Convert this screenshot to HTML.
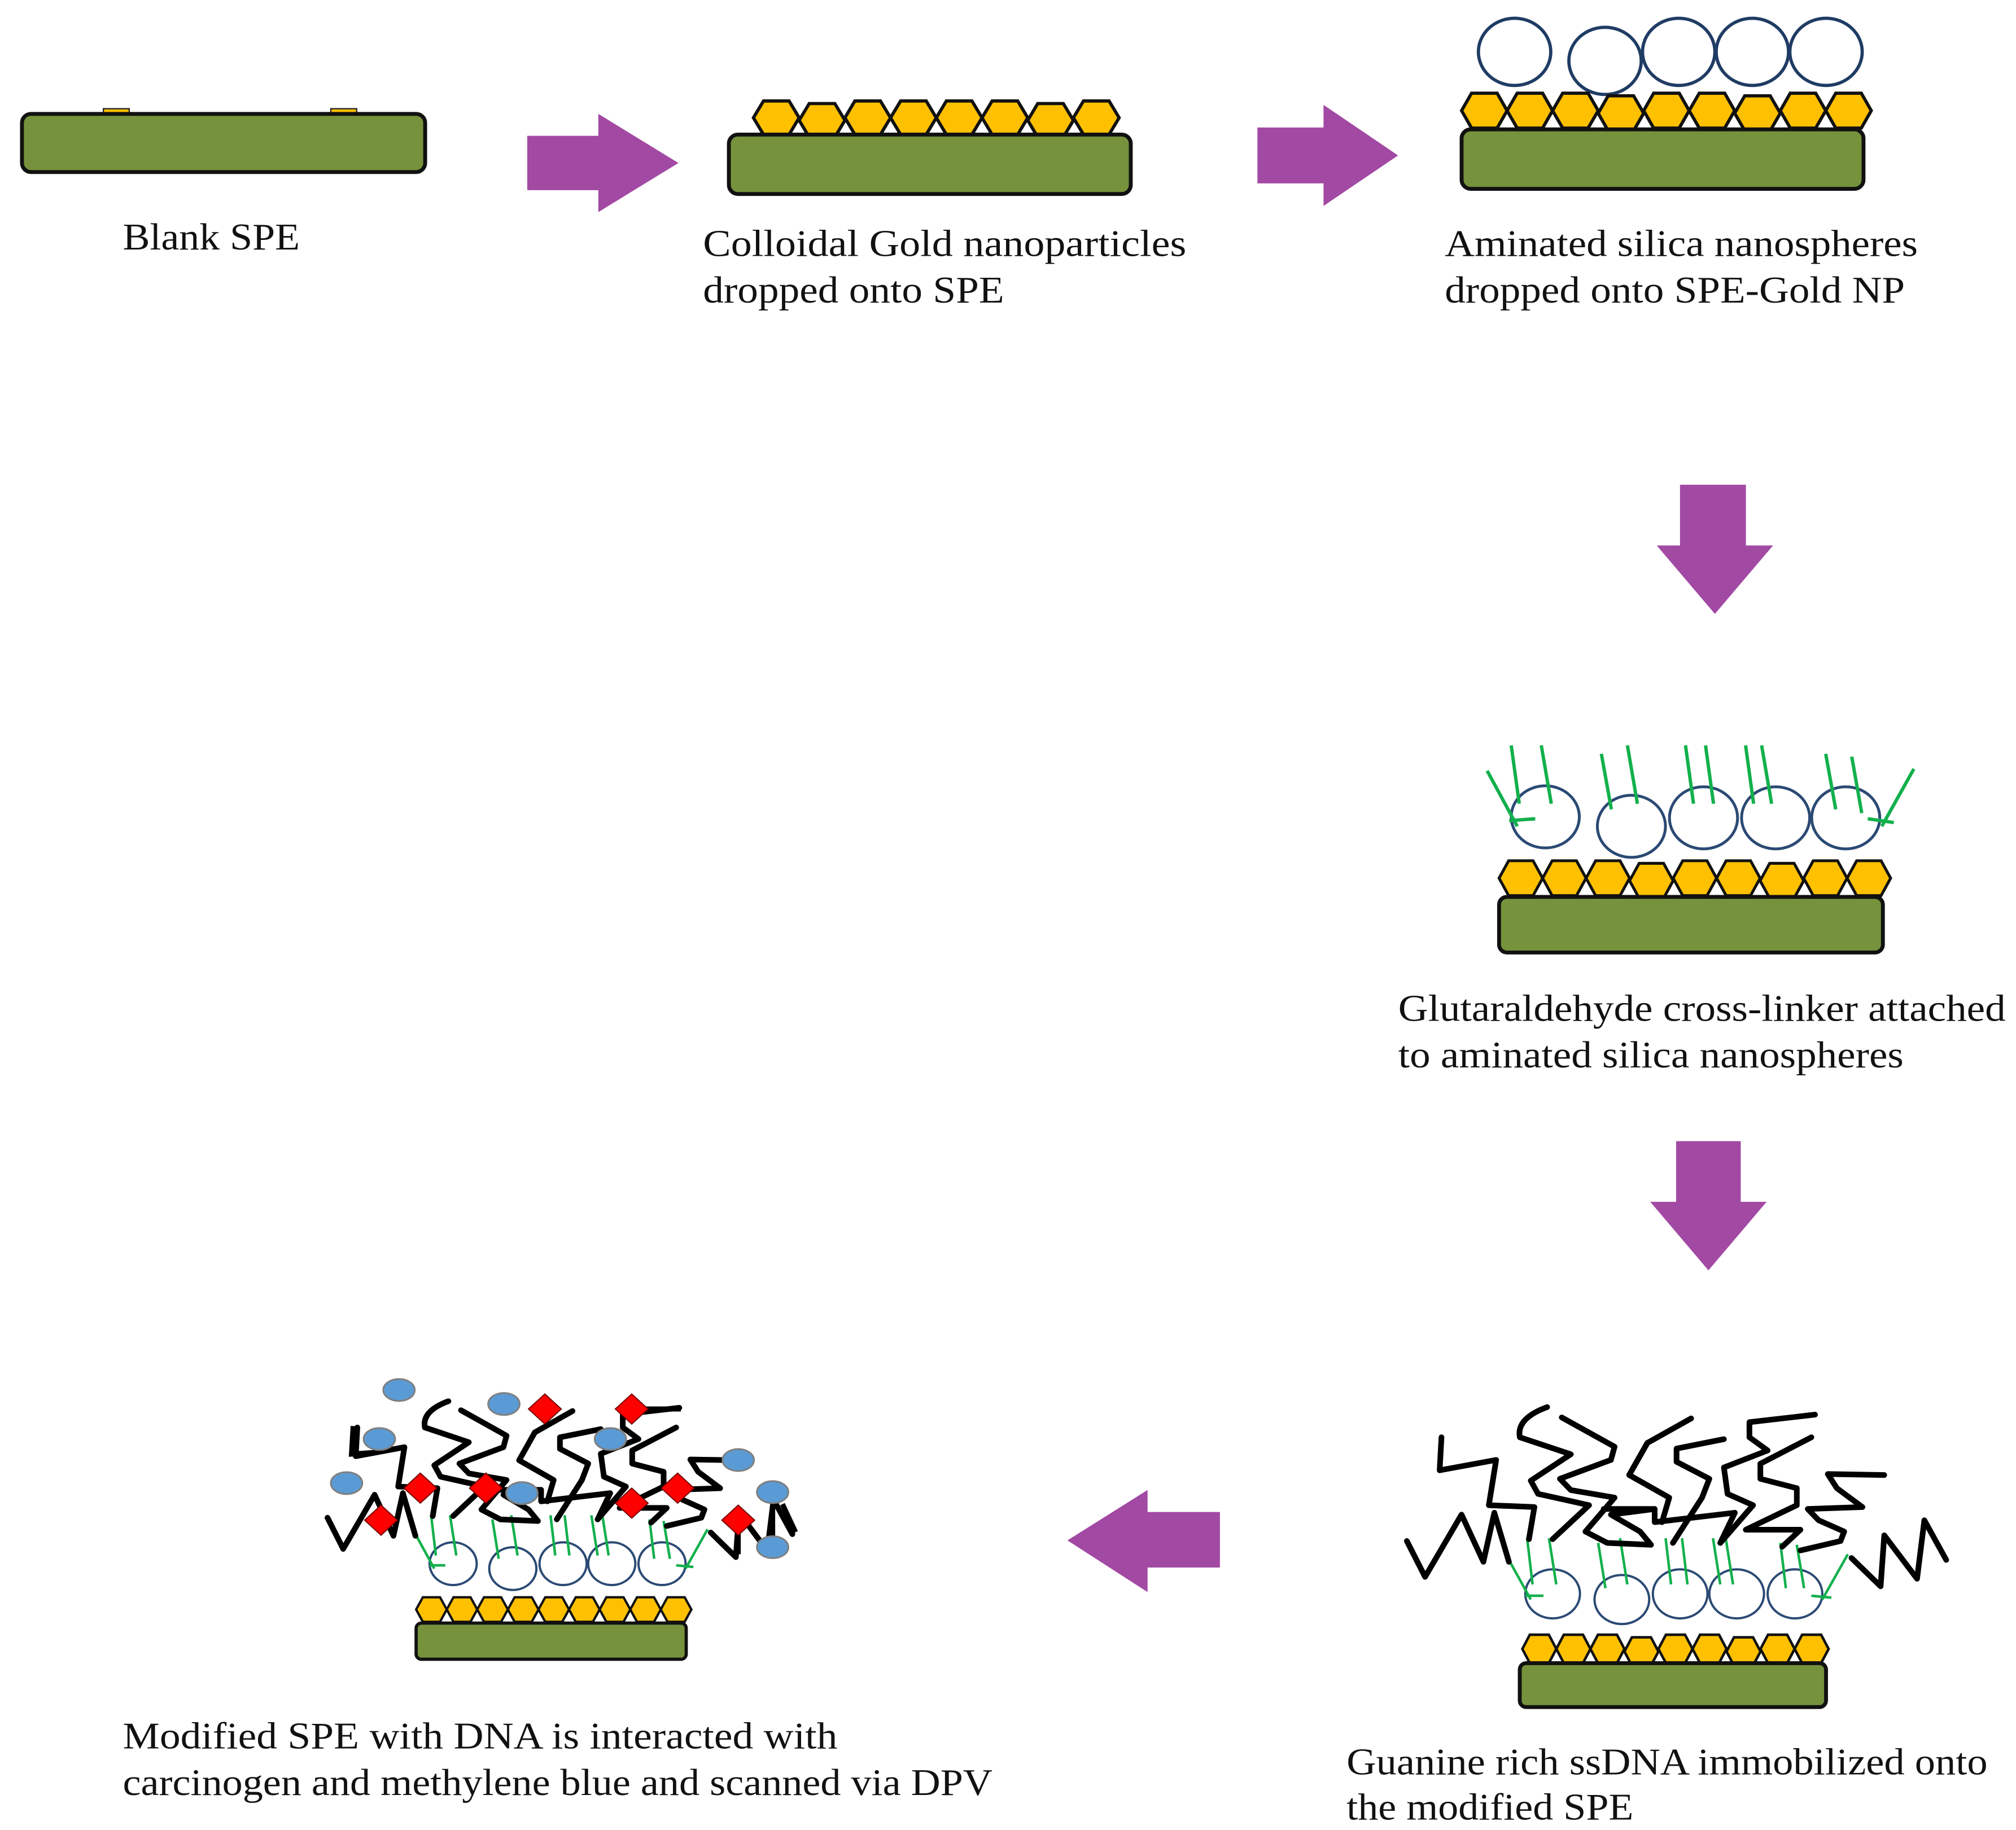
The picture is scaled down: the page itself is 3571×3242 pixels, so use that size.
<!DOCTYPE html>
<html><head><meta charset="utf-8"><style>
html,body{margin:0;padding:0;background:#fff;}
svg{display:block;}
text{font-family:"Liberation Serif",serif;font-size:29px;fill:#111;}
</style></head><body>
<svg id="s" width="3571" height="3242" viewBox="0 0 1560 1416" xmlns="http://www.w3.org/2000/svg">
<defs>
<g id="arrowR"><path d="M0,17 H55 V0 L117,38 L55,76 V59 H0 Z" fill="#a249a3"/></g>
</defs>

<!-- Panel 1 -->
<rect x="80" y="84" width="20" height="6" fill="#ffc000" stroke="#222" stroke-width="1"/>
<rect x="256" y="84" width="20" height="6" fill="#ffc000" stroke="#222" stroke-width="1"/>
<rect x="17" y="88" width="312" height="45" rx="7" fill="#76923c" stroke="#111" stroke-width="3"/>
<text x="95" y="193" textLength="137" lengthAdjust="spacingAndGlyphs">Blank SPE</text>

<use href="#arrowR" transform="translate(408,88)"/>

<!-- Panel 2 -->
<g id="hex2"></g>
<rect x="564" y="104" width="311" height="46" rx="7" fill="#76923c" stroke="#111" stroke-width="3"/>
<text x="544" y="198" textLength="374" lengthAdjust="spacingAndGlyphs">Colloidal Gold nanoparticles</text>
<text x="544" y="234" textLength="233" lengthAdjust="spacingAndGlyphs">dropped onto SPE</text>

<use href="#arrowR" transform="translate(973,81) scale(0.93,1.03)"/>

<!-- Panel 3 -->
<g fill="none" stroke="#1f3c64" stroke-width="2.5">
<ellipse cx="1172" cy="40" rx="28" ry="26"/>
<ellipse cx="1242" cy="47" rx="28" ry="26"/>
<ellipse cx="1299" cy="40" rx="28" ry="26"/>
<ellipse cx="1356" cy="40" rx="28" ry="26"/>
<ellipse cx="1413" cy="40" rx="28" ry="26"/>
</g>
<g id="hex3"></g>
<rect x="1131" y="100" width="311" height="46" rx="7" fill="#76923c" stroke="#111" stroke-width="3"/>
<text x="1118" y="198" textLength="366" lengthAdjust="spacingAndGlyphs">Aminated silica nanospheres</text>
<text x="1118" y="234" textLength="356" lengthAdjust="spacingAndGlyphs">dropped onto SPE-Gold NP</text>

<path d="M1300,375 H1351 V422 H1372 L1327,475 L1282,422 H1300 Z" fill="#a249a3"/>

<!-- Panel 4 -->
<g id="hex4"></g>
<rect x="1160" y="694" width="297" height="43" rx="6" fill="#76923c" stroke="#111" stroke-width="3"/>
<g transform="translate(1048.5,568) scale(0.310,0.1456)">
<g fill="none" stroke="#2b4a74" stroke-width="5">
<ellipse vector-effect="non-scaling-stroke" cx="475" cy="440" rx="85" ry="165"/>
<ellipse vector-effect="non-scaling-stroke" cx="690" cy="490" rx="85" ry="165"/>
<ellipse vector-effect="non-scaling-stroke" cx="870" cy="445" rx="85" ry="165"/>
<ellipse vector-effect="non-scaling-stroke" cx="1050" cy="445" rx="85" ry="165"/>
<ellipse vector-effect="non-scaling-stroke" cx="1225" cy="445" rx="85" ry="165"/>
</g>
<path vector-effect="non-scaling-stroke" stroke="#12b04c" stroke-width="6" fill="none" d="M390,60 L410,370 M465,60 L490,370 M615,105 L640,400 M680,60 L705,370 M825,60 L845,370 M875,60 L895,370 M975,60 L995,370 M1015,60 L1040,370 M1175,105 L1200,400 M1240,120 L1265,420 M330,195 L405,490 M1395,185 L1315,490 M385,460 L450,450 M1280,450 L1345,470"/>
</g>
<text x="1082" y="790" textLength="470" lengthAdjust="spacingAndGlyphs">Glutaraldehyde cross-linker attached</text>
<text x="1082" y="826" textLength="391" lengthAdjust="spacingAndGlyphs">to aminated silica nanospheres</text>

<path d="M1297,883 H1347 V930 H1367 L1322,983 L1277,930 H1297 Z" fill="#a249a3"/>

<!-- Panel 5 -->
<g id="hex5"></g>
<rect x="1176" y="1287" width="237" height="34" rx="5" fill="#76923c" stroke="#111" stroke-width="3"/>
<g id="dna5" transform="translate(1083,1083) scale(0.282,0.146)">
<g fill="none" stroke="#2b4a74" stroke-width="4">
<ellipse vector-effect="non-scaling-stroke" cx="420" cy="1030" rx="75" ry="130"/>
<ellipse vector-effect="non-scaling-stroke" cx="610" cy="1060" rx="75" ry="130"/>
<ellipse vector-effect="non-scaling-stroke" cx="770" cy="1030" rx="75" ry="130"/>
<ellipse vector-effect="non-scaling-stroke" cx="925" cy="1030" rx="75" ry="130"/>
<ellipse vector-effect="non-scaling-stroke" cx="1085" cy="1030" rx="75" ry="130"/>
</g>
<path vector-effect="non-scaling-stroke" fill="none" stroke="#12b04c" stroke-width="4.5" d="M350,735 L365,980 M410,735 L430,980 M545,760 L565,1000 M605,735 L625,980 M730,735 L745,980 M775,735 L790,980 M860,735 L880,980 M895,735 L915,980 M1045,760 L1060,1000 M1090,770 L1110,1000 M300,850 L360,1060 M1230,820 L1160,1060 M345,1040 L395,1040 M1130,1040 L1185,1050"/>
<g fill="none" stroke="#000" stroke-width="10" stroke-linejoin="round" stroke-linecap="round">
<path vector-effect="non-scaling-stroke" d="M20,750 L70,940 L170,610 L230,860 L260,600 L300,860"/>
<path vector-effect="non-scaling-stroke" d="M115,200 L110,375 L265,320 L245,560 L370,570 L355,740"/>
<path vector-effect="non-scaling-stroke" d="M405,40 Q320,100 330,200 L470,290 L360,430 L380,500 L520,560 L420,740"/>
<path vector-effect="non-scaling-stroke" d="M445,95 L590,250 L580,320 L440,420 L470,480 L590,520 L510,700 L570,760 L690,770 L660,700 L580,610 L700,580"/>
<path vector-effect="non-scaling-stroke" d="M800,100 L680,230 L630,400 L740,520 L720,650"/>
<path vector-effect="non-scaling-stroke" d="M890,210 L760,260 L760,330 L850,420 L830,520 L750,760"/>
<path vector-effect="non-scaling-stroke" d="M1140,80 L960,120 L960,200 L1010,270 L890,360 L900,500 L970,560 L880,760"/>
<path vector-effect="non-scaling-stroke" d="M1130,200 L990,340 L990,420 L1090,470 L1090,560 L950,690 L1100,690 L1050,780"/>
<path vector-effect="non-scaling-stroke" d="M1330,400 L1175,395 L1200,470 L1270,570 L1120,580 L1150,640 L1220,700 L1210,750 L1100,800"/>
<path vector-effect="non-scaling-stroke" d="M1240,840 L1320,990 L1330,720 L1420,950 L1440,640 L1500,850"/>
<path vector-effect="non-scaling-stroke" d="M560,580 L700,580 L700,650 L920,600 L880,760"/>
</g>
</g>
<text x="1042" y="1373" textLength="496" lengthAdjust="spacingAndGlyphs">Guanine rich ssDNA immobilized onto</text>
<text x="1042" y="1408" textLength="222" lengthAdjust="spacingAndGlyphs">the modified SPE</text>

<path d="M944,1170 V1213 H888 V1232 L826,1192 L888,1153 V1170 Z" fill="#a249a3"/>

<!-- Panel 6 -->
<g id="hex6"></g>
<rect x="322" y="1256" width="209" height="28" rx="4" fill="#76923c" stroke="#111" stroke-width="2.5"/>
<use href="#dna5" transform="matrix(0.862,0,0,0.87,-685,137)"/>
<g transform="translate(240.3,1057) scale(0.2536,0.155)">
<path vector-effect="non-scaling-stroke" d="M1410,680 L1410,860 M1440,690 L1480,830 M130,300 L125,440 L210,430 M1305,840 L1305,940 M1000,215 L1130,215" fill="none" stroke="#000" stroke-width="9"/>
<g fill="#ff0000" stroke="#700" stroke-width="2">
<path vector-effect="non-scaling-stroke" d="M715,140 L765,215 L715,290 L665,215 Z"/>
<path vector-effect="non-scaling-stroke" d="M980,140 L1030,215 L980,290 L930,215 Z"/>
<path vector-effect="non-scaling-stroke" d="M335,535 L385,610 L335,685 L285,610 Z"/>
<path vector-effect="non-scaling-stroke" d="M535,535 L585,610 L535,685 L485,610 Z"/>
<path vector-effect="non-scaling-stroke" d="M1120,535 L1170,610 L1120,685 L1070,610 Z"/>
<path vector-effect="non-scaling-stroke" d="M980,610 L1030,685 L980,760 L930,685 Z"/>
<path vector-effect="non-scaling-stroke" d="M215,695 L265,770 L215,845 L165,770 Z"/>
<path vector-effect="non-scaling-stroke" d="M1305,695 L1355,770 L1305,845 L1255,770 Z"/>
</g>
<g fill="#5b9bd5" stroke="#7f7f7f" stroke-width="3">
<ellipse vector-effect="non-scaling-stroke" cx="270" cy="120" rx="48" ry="55"/>
<ellipse vector-effect="non-scaling-stroke" cx="590" cy="190" rx="48" ry="55"/>
<ellipse vector-effect="non-scaling-stroke" cx="210" cy="365" rx="48" ry="55"/>
<ellipse vector-effect="non-scaling-stroke" cx="915" cy="365" rx="48" ry="55"/>
<ellipse vector-effect="non-scaling-stroke" cx="110" cy="585" rx="48" ry="55"/>
<ellipse vector-effect="non-scaling-stroke" cx="645" cy="635" rx="48" ry="55"/>
<ellipse vector-effect="non-scaling-stroke" cx="1305" cy="470" rx="48" ry="55"/>
<ellipse vector-effect="non-scaling-stroke" cx="1410" cy="630" rx="48" ry="55"/>
<ellipse vector-effect="non-scaling-stroke" cx="1410" cy="905" rx="48" ry="55"/>
</g>
</g>
<text x="95" y="1353" textLength="553" lengthAdjust="spacingAndGlyphs">Modified SPE with DNA is interacted with</text>
<text x="95" y="1389" textLength="673" lengthAdjust="spacingAndGlyphs">carcinogen and methylene blue and scanned via DPV</text>
</svg>
<script>
function hexes(id,x0,x1,n,y0,y1,sw,alt){
  var g=document.getElementById(id),w=(x1-x0)/n,s="";
  for(var i=0;i<n;i++){
    var x=x0+i*w,y=y0,h=y1-y0;
    if(alt&&alt.indexOf(i)>=0){y+=2;}
    var p=[[x+w*.22,y],[x+w*.78,y],[x+w,y+h/2],[x+w*.78,y+h],[x+w*.22,y+h],[x,y+h/2]].map(function(a){return a[0].toFixed(1)+","+a[1].toFixed(1)}).join(" ");
    s+='<polygon points="'+p+'" fill="#ffc000" stroke="#111" stroke-width="'+sw+'"/>';
  }
  g.innerHTML=s;
}
hexes("hex2",583,866,8,78,104,2.5,[1,6]);
hexes("hex3",1131,1448,9,72,99,2.5,[3,6]);
hexes("hex4",1160,1463,9,666,693,2.2,[3,6]);
hexes("hex5",1178,1415,9,1265,1287,2,[3,6]);
hexes("hex6",322,535,9,1236,1255,1.8,[]);
</script>
</body></html>
